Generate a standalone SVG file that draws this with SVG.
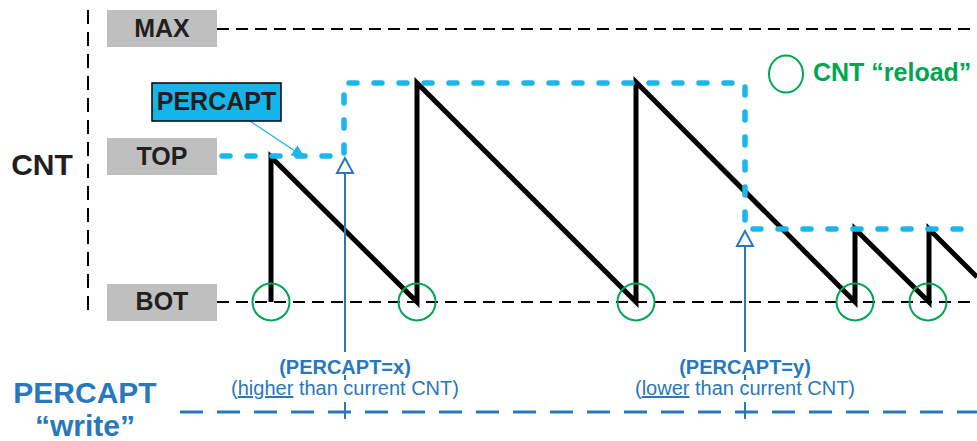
<svg xmlns="http://www.w3.org/2000/svg" width="977" height="441" viewBox="0 0 977 441">
<defs>
<style>
.box{fill:#BFBFBF}
.lbl{font-family:"Liberation Sans",Arial,sans-serif;font-weight:bold;font-size:25px;fill:#231F20;text-anchor:middle}
.blk{fill:none;stroke:#000;stroke-width:2;stroke-dasharray:12 7}
.saw{fill:none;stroke:#000;stroke-width:5;stroke-linejoin:miter}
.cyan{fill:none;stroke:#1BB6EA;stroke-width:5.5;stroke-dasharray:8 17;stroke-linecap:round;stroke-linejoin:round}
.rel{fill:none;stroke:#00A651;stroke-width:2}
.bl{stroke:#2878BD;stroke-width:2;fill:none}
.bt{font-family:"Liberation Sans",Arial,sans-serif;fill:#2878BD;text-anchor:middle}
</style>
<marker id="ah" markerWidth="14" markerHeight="12" refX="12" refY="6" orient="auto" markerUnits="userSpaceOnUse">
<path d="M0,0 L13,6 L0,12 Z" fill="#1BB6EA"/>
</marker>
</defs>
<rect width="977" height="441" fill="#fff"/>

<g id="axis">
<line x1="88" y1="10" x2="88" y2="313" stroke="#000" stroke-width="2" stroke-dasharray="14 8"/>
<text x="42" y="175" font-family="Liberation Sans,Arial,sans-serif" font-weight="bold" font-size="30" fill="#231F20" text-anchor="middle">CNT</text>
</g>

<g id="connectors">
<line class="blk" x1="217" y1="29" x2="977" y2="29"/>
<line class="blk" x1="217" y1="302" x2="977" y2="302"/>
<line x1="180" y1="412" x2="977" y2="412" stroke="#2878BD" stroke-width="3.2" stroke-dasharray="23 14"/>
<polyline class="saw" points="271,302 271,157 417,302 417,83 636,302 636,82 855,302 855,229 929,302 929,229 977,277"/>
<path class="cyan" d="M222,156 L344,156 L344,83 L745,83 L745,229 L977,229"/>
<line x1="250" y1="121" x2="304" y2="157" stroke="#1BB6EA" stroke-width="1.3" marker-end="url(#ah)"/>
<g class="bl">
<line x1="345" y1="173" x2="345" y2="352"/>
<line x1="345" y1="375" x2="345" y2="380"/>
<line x1="345" y1="402" x2="345" y2="419"/>
<path d="M345,158 L337,173 L353,173 Z" fill="#fff"/>
<line x1="745" y1="246" x2="745" y2="352"/>
<line x1="745" y1="375" x2="745" y2="380"/>
<line x1="745" y1="402" x2="745" y2="419"/>
<path d="M745,231 L737,246 L753,246 Z" fill="#fff"/>
</g>
</g>

<g id="max"><rect class="box" x="107" y="10" width="110" height="37"/><text class="lbl" x="162" y="37">MAX</text></g>
<g id="top"><rect class="box" x="107" y="138" width="110" height="37"/><text class="lbl" x="162" y="165">TOP</text></g>
<g id="bot"><rect class="box" x="107" y="284" width="110" height="37"/><text class="lbl" x="162" y="310">BOT</text></g>
<g id="percapt"><rect x="152" y="83" width="129" height="38" fill="#15B5E9" stroke="#000" stroke-width="1.5"/><text class="lbl" x="216.5" y="110">PERCAPT</text></g>

<g id="reloads">
<circle class="rel" cx="271" cy="302" r="18.5"/>
<circle class="rel" cx="417" cy="302" r="18.5"/>
<circle class="rel" cx="636" cy="302" r="18.5"/>
<circle class="rel" cx="855" cy="302" r="18.5"/>
<circle class="rel" cx="928" cy="302" r="18.5"/>
</g>

<g id="legend">
<ellipse class="rel" cx="786" cy="74" rx="17" ry="18.5"/>
<text x="813" y="81" font-family="Liberation Sans,Arial,sans-serif" font-weight="bold" font-size="25" fill="#00A651">CNT “reload”</text>
</g>

<g id="write-x">
<text class="bt" x="345" y="374" font-size="20" font-weight="bold">(PERCAPT=x)</text>
<text class="bt" x="345" y="395" font-size="20">(<tspan text-decoration="underline">higher</tspan> than current CNT)</text>
</g>
<g id="write-y">
<text class="bt" x="745" y="374" font-size="20" font-weight="bold">(PERCAPT=y)</text>
<text class="bt" x="745" y="395" font-size="20">(<tspan text-decoration="underline">lower</tspan> than current CNT)</text>
</g>
<g id="write-label">
<text class="bt" x="85" y="403" font-size="30" font-weight="bold">PERCAPT</text>
<text class="bt" x="85" y="436" font-size="30" font-weight="bold">“write”</text>
</g>
</svg>
